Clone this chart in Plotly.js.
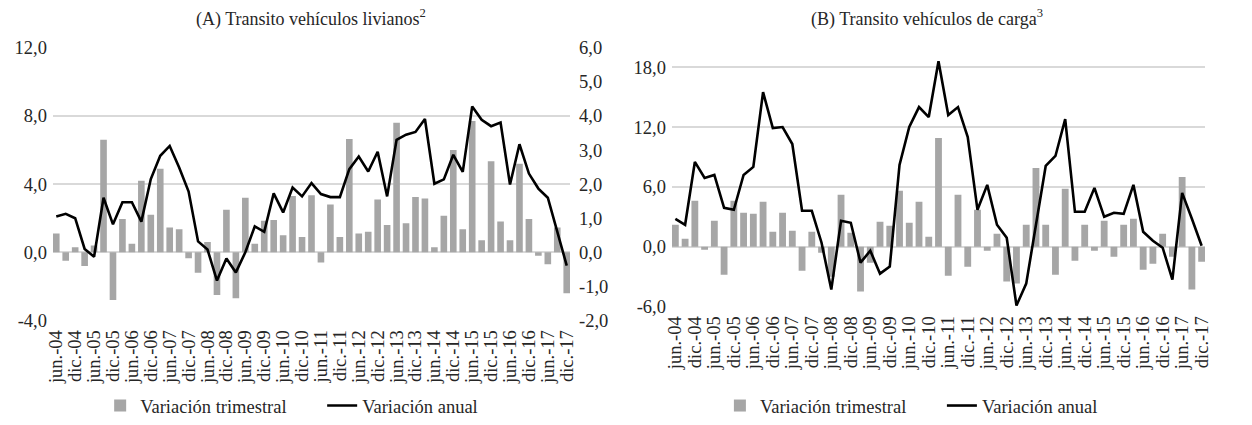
<!DOCTYPE html>
<html><head><meta charset="utf-8">
<script src="https://cdn.plot.ly/plotly-3.0.1.min.js"></script>
<style>html,body{margin:0;padding:0;background:#fff}</style>
</head><body><div id="chart" style="width:1252px;height:425px"></div>
<script>
const quarters = ["jun.-04","sep.-04","dic.-04","mar.-05","jun.-05","sep.-05","dic.-05","mar.-06","jun.-06","sep.-06","dic.-06","mar.-07","jun.-07","sep.-07","dic.-07","mar.-08","jun.-08","sep.-08","dic.-08","mar.-09","jun.-09","sep.-09","dic.-09","mar.-10","jun.-10","sep.-10","dic.-10","mar.-11","jun.-11","sep.-11","dic.-11","mar.-12","jun.-12","sep.-12","dic.-12","mar.-13","jun.-13","sep.-13","dic.-13","mar.-14","jun.-14","sep.-14","dic.-14","mar.-15","jun.-15","sep.-15","dic.-15","mar.-16","jun.-16","sep.-16","dic.-16","mar.-17","jun.-17","sep.-17","dic.-17"];
const tickLabels = ["jun.-04","dic.-04","jun.-05","dic.-05","jun.-06","dic.-06","jun.-07","dic.-07","jun.-08","dic.-08","jun.-09","dic.-09","jun.-10","dic.-10","jun.-11","dic.-11","jun.-12","dic.-12","jun.-13","dic.-13","jun.-14","dic.-14","jun.-15","dic.-15","jun.-16","dic.-16","jun.-17","dic.-17"];

const livianosTrimestral = [1.1,-0.5,0.3,-0.8,0.4,6.6,-2.8,1.95,0.5,4.2,2.2,4.9,1.45,1.35,-0.35,-1.2,0.6,-2.5,2.5,-2.7,3.2,0.5,1.85,1.9,1.0,3.3,0.9,3.35,-0.6,2.8,0.9,6.65,1.1,1.2,3.1,1.6,7.6,1.7,3.25,3.15,0.3,2.15,6.0,1.35,7.7,0.7,5.35,1.8,0.7,5.2,1.95,-0.2,-0.7,1.45,-2.4];
const livianosAnual = [1.05,1.13,1.0,0.1,-0.13,1.6,0.82,1.47,1.47,0.9,2.15,2.83,3.12,2.49,1.78,0.32,0.08,-0.83,-0.18,-0.59,0.0,0.76,0.6,1.73,1.17,1.9,1.64,2.03,1.71,1.62,1.62,2.44,2.81,2.37,2.95,1.64,3.3,3.45,3.53,3.91,2.01,2.14,2.86,2.36,4.28,3.89,3.7,3.81,1.99,3.17,2.31,1.87,1.6,0.6,-0.39];

const cargaTrimestral = [2.2,0.8,4.6,-0.3,2.6,-2.8,4.6,3.4,3.3,4.5,1.5,3.4,1.6,-2.4,1.5,-0.6,-3.0,5.2,1.4,-4.5,-1.6,2.5,2.1,5.6,2.4,4.5,1.0,10.9,-2.9,5.2,-2.0,3.7,-0.4,1.3,-3.5,-3.7,2.2,7.9,2.2,-2.8,5.8,-1.4,2.2,-0.4,2.6,-1.0,2.2,2.8,-2.3,-1.7,1.3,-1.0,7.0,-4.3,-1.5];
const cargaAnual = [2.8,2.2,8.5,6.9,7.2,3.9,3.7,7.2,8.0,15.5,11.9,12.0,10.3,3.6,3.6,0.4,-4.3,2.6,2.4,-1.6,-0.4,-2.7,-2.0,8.2,12.0,14.0,13.0,18.6,13.2,14.0,11.0,3.7,6.2,2.2,0.9,-5.9,-3.7,2.0,8.1,9.1,12.8,3.5,3.5,5.9,3.0,3.4,3.3,6.2,1.5,0.6,-0.1,-3.3,5.4,2.8,0.1];

const leftTickVals = [-4,0,4,8,12];
const leftTickText = ["-4,0","0,0","4,0","8,0","12,0"];
const rightTickVals = [-2,-1,0,1,2,3,4,5,6];
const rightTickText = ["-2,0","-1,0","0,0","1,0","2,0","3,0","4,0","5,0","6,0"];
const cargaTickVals = [-6,0,6,12,18];
const cargaTickText = ["-6,0","0,0","6,0","12,0","18,0"];

const FONT = "Liberation Serif";
const BAR = "#a6a6a6";
const GRID = "#d9d9d9";
const TXT = "#262626";
const FS = 18.5;

const traces = [
  {type:"bar", x:quarters, y:livianosTrimestral, xaxis:"x", yaxis:"y", name:"Variación trimestral", marker:{color:BAR}, legend:"legend"},
  {type:"scatter", mode:"lines", x:quarters, y:livianosAnual, xaxis:"x", yaxis:"y2", name:"Variación anual", line:{color:"#000", width:2.6}, legend:"legend"},
  {type:"bar", x:quarters, y:cargaTrimestral, xaxis:"x2", yaxis:"y3", name:"Variación trimestral", marker:{color:BAR}, legend:"legend2"},
  {type:"scatter", mode:"lines", x:quarters, y:cargaAnual, xaxis:"x2", yaxis:"y3", name:"Variación anual", line:{color:"#000", width:2.6}, legend:"legend2"}
];

const xcommon = {type:"category", tickmode:"array", tickvals:tickLabels, ticktext:tickLabels, tickangle:-90, range:[-0.35,54.35],
  showgrid:false, showline:false, zeroline:false, ticks:"", ticklabelstandoff:5, tickfont:{family:FONT, size:FS, color:TXT}, fixedrange:true};
const ycommon = {tickmode:"array", ticks:"", showline:false, ticklabelstandoff:5, tickfont:{family:FONT, size:FS, color:TXT}, fixedrange:true};

const legendCommon = {orientation:"h", xanchor:"left", y:0.04, yanchor:"middle", entrywidth:177, entrywidthmode:"pixels",
  font:{family:FONT, size:FS, color:TXT}, bgcolor:"rgba(0,0,0,0)"};

const layout = {
  width:1252, height:425,
  margin:{l:0, r:0, t:0, b:0},
  paper_bgcolor:"#fff", plot_bgcolor:"rgba(0,0,0,0)",
  font:{family:FONT, color:TXT, size:FS},
  bargap:0.3,
  showlegend:true,
  xaxis:Object.assign({}, xcommon, {domain:[0.0423,0.4553], anchor:"y"}),
  yaxis:Object.assign({}, ycommon, {domain:[0.2424,0.887], anchor:"x", range:[-4,12], tickvals:leftTickVals, ticktext:leftTickText,
    showgrid:true, gridcolor:GRID, gridwidth:1.5, zeroline:true, zerolinecolor:GRID, zerolinewidth:2}),
  yaxis2:Object.assign({}, ycommon, {overlaying:"y", side:"right", anchor:"x", range:[-2,6], tickvals:rightTickVals, ticktext:rightTickText,
    showgrid:false, zeroline:false, ticklabelstandoff:8}),
  xaxis2:Object.assign({}, xcommon, {domain:[0.5367,0.9625], anchor:"y3"}),
  yaxis3:Object.assign({}, ycommon, {domain:[0.2753,0.8765], anchor:"x2", range:[-6,19.5], tickvals:cargaTickVals, ticktext:cargaTickText,
    showgrid:true, gridcolor:GRID, gridwidth:1.5, zeroline:true, zerolinecolor:GRID, zerolinewidth:2}),
  legend:Object.assign({}, legendCommon, {x:0.080}),
  legend2:Object.assign({}, legendCommon, {x:0.575}),
  annotations:[
    {xref:"paper", yref:"paper", x:0.2488, y:0.958, xanchor:"center", yanchor:"middle", showarrow:false,
     text:"(A) Transito vehículos livianos<sup>2</sup>", font:{family:FONT, size:18, color:TXT}},
    {xref:"paper", yref:"paper", x:0.7408, y:0.958, xanchor:"center", yanchor:"middle", showarrow:false,
     text:"(B) Transito vehículos de carga<sup>3</sup>", font:{family:FONT, size:18, color:TXT}}
  ]
};

Plotly.newPlot("chart", traces, layout, {displayModeBar:false, staticPlot:true});
</script>
</body></html>
